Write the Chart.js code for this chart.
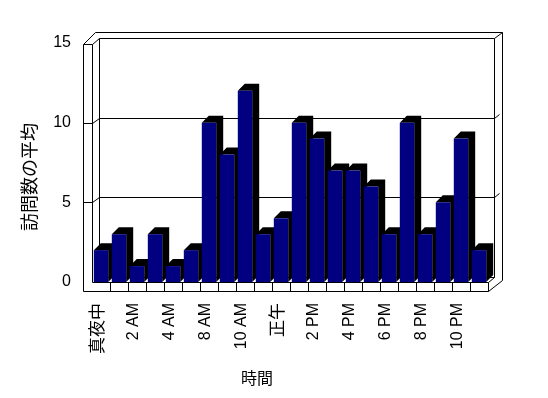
<!DOCTYPE html>
<html>
<head>
<meta charset="utf-8">
<script src="https://cdn.jsdelivr.net/npm/chart.js@4"></script>
<style>
  html, body { margin: 0; padding: 0; background: #fff; }
</style>
</head>
<body>
<canvas id="chart" width="548" height="398"></canvas>
<script>
// data
const hours = ["真夜中", "1 AM", "2 AM", "3 AM", "4 AM", "6 AM", "8 AM", "9 AM", "10 AM", "11 AM", "正午",
    "1 PM", "2 PM", "3 PM", "4 PM", "5 PM", "6 PM", "7 PM", "8 PM", "9 PM", "10 PM", "11 PM"];
const visits = [2, 3, 1, 3, 1, 2, 10, 8, 12, 3, 4, 10, 9, 7, 7, 6, 3, 10, 3, 5, 9, 2];
const yTicks = [0, 5, 10, 15];
const xTitle = "時間";
const yTitle = "訪問数の平均";

const LATIN = '"Liberation Sans", "Noto Sans CJK JP", sans-serif';
const CJK = '"Noto Sans CJK JP", sans-serif';

// walls, floor, back grid and the black sides/tops of the bars
const box3d = {
    id: "box3d",
    beforeDatasetsDraw(chart) {
        const { ctx, chartArea: a, scales: { x, y } } = chart;
        const L = a.left, R = a.right;
        const B = y.getPixelForValue(0), T = y.getPixelForValue(15);
        const back = (v) => y.getPixelForValue(v) - 5;
        const OL = L - 9, FB = B + 9, BL = L + 7, BR = R + 6, OR = R + 14;
        const BT = back(15), OT = BT - 6, WT = T + 1, BB = back(0);

        const line = (pts) => {
            ctx.beginPath();
            pts.forEach(([px, py], i) => {
                const qx = Math.round(px) + 0.5, qy = Math.round(py) + 0.5;
                if (i) ctx.lineTo(qx, qy); else ctx.moveTo(qx, qy);
            });
            ctx.stroke();
        };

        ctx.save();
        ctx.strokeStyle = "#000";
        ctx.lineWidth = 1;
        line([[OL, FB], [OL, WT], [L, WT], [L, B]]);
        line([[OL, WT], [OL + 12, OT], [OR, OT], [OR, FB - 11], [R, FB]]);
        line([[L, WT], [BL, BT], [BR, BT], [BR, BB]]);
        line([[BR, BT], [OR, OT]]);
        line([[BL, BT], [BL, BB], [BR, BB]]);
        line([[OL, FB], [R, FB], [R, B], [L, B]]);
        line([[R, B], [BR, BB]]);
        yTicks.filter((v) => v > 0 && v < 15).forEach((v) => {
            const fy = y.getPixelForValue(v), by = back(v);
            line([[OL, fy], [L, fy], [BL, by], [BR, by], [BR + 5, by - 4]]);
        });
        for (let i = 1; i < hours.length; i++) {
            const px = (x.getPixelForValue(i - 1) + x.getPixelForValue(i)) / 2;
            line([[px, B], [px, FB]]);
        }

        ctx.fillStyle = "#000";
        chart.getDatasetMeta(0).data.forEach((bar) => {
            const { x: bx, y: by, base, width } = bar.getProps(["x", "y", "base", "width"], true);
            const l = bx - width / 2, r = bx + width / 2;
            ctx.beginPath();
            ctx.moveTo(l, by);
            ctx.lineTo(l + 7, by - 7);
            ctx.lineTo(r + 7, by - 7);
            ctx.lineTo(r + 7, base - 7);
            ctx.lineTo(r, base);
            ctx.lineTo(r, by);
            ctx.closePath();
            ctx.fill();
        });
        ctx.restore();
    },
    afterDraw(chart) {
        const { ctx } = chart;
        ctx.save();
        ctx.fillStyle = "#000";
        ctx.textAlign = "center";
        ctx.textBaseline = "middle";
        ctx.font = "18px " + CJK;
        ctx.translate(29, 177);
        ctx.rotate(-Math.PI / 2);
        ctx.fillText(yTitle, 0, 0);
        ctx.restore();

        ctx.save();
        ctx.fillStyle = "#000";
        ctx.textAlign = "center";
        ctx.textBaseline = "middle";
        ctx.font = "16px " + CJK;
        ctx.fillText(xTitle, 257, 378);
        ctx.restore();
    }
};

new Chart(document.getElementById("chart"), {
    type: "bar",
    data: {
        labels: hours,
        datasets: [
            {
                data: visits,
                backgroundColor: "#000080",
                borderWidth: 0,
                barPercentage: 0.8,
                categoryPercentage: 1
            }
        ]
    },
    options: {
        responsive: false,
        animation: false,
        devicePixelRatio: 1,
        layout: {
            padding: { left: 0, top: 43, right: 60, bottom: 0 }
        },
        plugins: {
            legend: { display: false },
            tooltip: { enabled: false }
        },
        scales: {
            x: {
                grid: { display: false, drawTicks: false },
                border: { display: false },
                ticks: {
                    autoSkip: false,
                    minRotation: 90,
                    maxRotation: 90,
                    padding: 21,
                    labelOffset: -3,
                    color: "#000",
                    font: (c) => ({ family: LATIN, size: /[^\x00-\x7f]/.test(hours[c.index] || "") ? 17 : 16 }),
                    callback: (value, index) => index % 2 === 0 ? hours[index] : ""
                },
                afterFit: (axis) => { axis.height = 116; }
            },
            y: {
                min: 0,
                max: 15,
                grid: { display: false, drawTicks: false },
                border: { display: false },
                ticks: {
                    stepSize: 5,
                    padding: 21,
                    color: "#000",
                    font: { family: LATIN, size: 16 }
                },
                afterFit: (axis) => { axis.width = 92; }
            }
        }
    },
    plugins: [box3d]
});
</script>
</body>
</html>
